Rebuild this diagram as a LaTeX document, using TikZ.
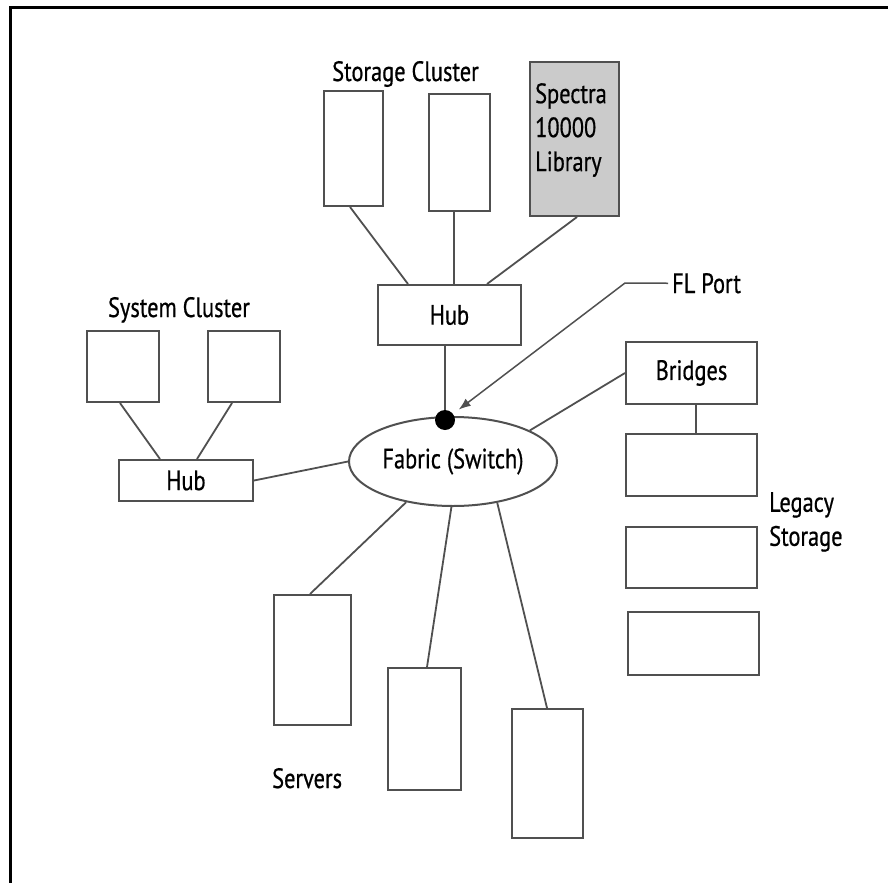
\documentclass[tikz,border=0pt]{standalone}
\usepackage{fontspec}
\setmainfont{PT Sans}[FakeStretch=0.8, FakeBold=0.6]
\usetikzlibrary{shapes.geometric,arrows.meta,calc}

\definecolor{edge}{HTML}{505050}
\definecolor{libfill}{HTML}{CBCBCB}

\begin{document}
\begin{tikzpicture}[x=1pt,y=-1pt,
  font=\fontsize{28}{34}\selectfont,
  unit/.style={draw=edge, line width=2pt, inner sep=0pt, fill=white},
  link/.style={draw=edge, line width=1.8pt},
  lbl/.style={inner sep=0pt}]

\useasboundingbox (0,0) rectangle (888,883);

% outer frame (top and left sides)
\draw[black, line width=3.5pt] (888,7.5) -- (10.5,7.5) -- (10.5,883);

% storage cluster
\node[unit, minimum width=59pt, minimum height=115pt] (sc1) at (353.5,148.5) {};
\node[unit, minimum width=61pt, minimum height=117pt] (sc2) at (459.5,152.5) {};
\node[unit, fill=libfill, minimum width=89pt, minimum height=154pt] (spectra) at (574.5,139) {};
\node[lbl, anchor=north west, align=left] (spectext) at (535,83) {Spectra\\10000\\Library};
\node[lbl, anchor=base] (sclabel) at (405.5,81) {Storage Cluster};
\node[unit, minimum width=143pt, minimum height=60pt] (hubT) at (449.5,315) {Hub};

% system cluster
\node[unit, minimum width=72pt, minimum height=71pt] (sys1) at (123,366.5) {};
\node[unit, minimum width=72pt, minimum height=71pt] (sys2) at (244,366.5) {};
\node[lbl, anchor=base] (syslabel) at (179,317) {System Cluster};
\node[unit, minimum width=134pt, minimum height=41pt] (hubL) at (186,480.5) {Hub};

% fabric
\node[unit, ellipse, minimum width=208pt, minimum height=89pt] (fab) at (453,461.5) {Fabric (Switch)};

% bridges and legacy storage
\node[unit, minimum width=131pt, minimum height=62pt] (bridges) at (691.5,373) {Bridges};
\node[unit, minimum width=131pt, minimum height=62pt] (leg1) at (691.5,465) {};
\node[unit, minimum width=131pt, minimum height=61pt] (leg2) at (691.5,557.5) {};
\node[unit, minimum width=131pt, minimum height=63pt] (leg3) at (693.5,643.5) {};
\node[lbl, anchor=north west, align=left] (leglabel) at (769,492) {Legacy\\Storage};

% servers
\node[unit, minimum width=77pt, minimum height=130pt] (srv1) at (312.5,660) {};
\node[unit, minimum width=73pt, minimum height=122pt] (srv2) at (424.5,729) {};
\node[unit, minimum width=71pt, minimum height=129pt] (srv3) at (547.5,773.5) {};
\node[lbl, anchor=base west] (srvlabel) at (272,788) {Servers};

% FL port marker and callout
\node[circle, fill=black, minimum size=20pt, inner sep=0pt] (flport) at (445,420) {};
\node[lbl, anchor=base west] (fltext) at (672,293) {FL Port};
\coordinate (flbend) at (625,283);

% connectors
\draw[link] ($(sc1.south)+(-3.5,0)$) -- ($(hubT.north)+(-41.5,0)$);
\draw[link] ($(sc2.south)+(-5.5,0)$) -- ($(hubT.north)+(4.5,0)$);
\draw[link] ($(spectra.south)+(2.5,0)$) -- ($(hubT.north)+(37.5,0)$);
\draw[link] (flport |- hubT.south) -- (flport);
\draw[link] ($(sys1.south)+(-3,0)$) -- ($(hubL.north)+(-26,0)$);
\draw[link] ($(sys2.south)+(-12,0)$) -- ($(hubL.north)+(11,0)$);
\draw[link] (hubL.east) -- (fab.west);
\draw[link] (fab.22) -- (bridges.west);
\draw[link] ($(bridges.south)+(4.5,0)$) -- ($(leg1.north)+(4.5,0)$);
\draw[link] (fab.221) -- ($(srv1.north)+(-2.5,0)$);
\draw[link] (fab.268) -- ($(srv2.north)+(2.5,0)$);
\draw[link] (fab.317) -- ($(srv3.north)+(-0.5,0)$);
\draw[link, line width=1.5pt, -{Latex[length=12pt,width=9pt]}, shorten >=7pt]
  ($(fltext.west)+(-4,0)$) -- (flbend) -- (flport);

\end{tikzpicture}
\end{document}
